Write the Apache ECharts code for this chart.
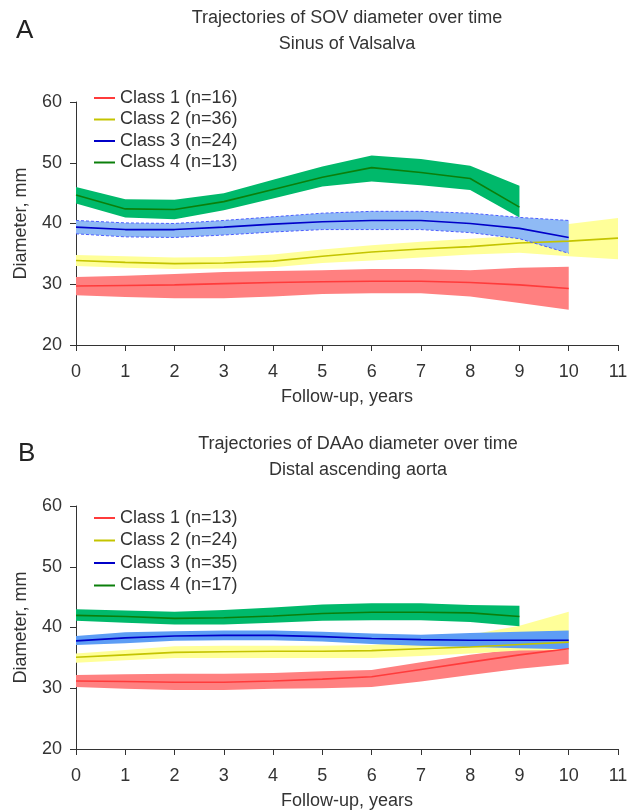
<!DOCTYPE html>
<html>
<head>
<meta charset="utf-8">
<script src="https://cdn.jsdelivr.net/npm/echarts@6/dist/echarts.min.js"></script>
<style>html,body{margin:0;padding:0;background:#fff}#c{width:635px;height:812px}</style>
</head>
<body>
<div id="c"></div>
<script>
// ---------- Panel A: SOV ----------
const xTicks = [0,1,2,3,4,5,6,7,8,9,10,11];
const yearsA1 = [0,1,2,3,4,5,6,7,8,9,10];
const A1mean  = [29.7,29.8,29.9,30.1,30.3,30.4,30.5,30.5,30.3,29.9,29.3];
const A1upper = [31.2,31.4,31.7,32.0,32.2,32.3,32.5,32.5,32.3,32.7,32.9];
const A1lower = [28.2,27.9,27.7,27.7,28.0,28.4,28.5,28.5,28.0,26.9,25.8];

const yearsA2 = [0,1,2,3,4,5,6,7,8,9,10,11];
const A2mean  = [33.9,33.6,33.4,33.5,33.8,34.6,35.3,35.8,36.2,36.8,37.1,37.6];
const A2upper = [34.8,34.6,34.4,34.5,34.9,35.7,36.4,37.0,37.5,38.0,39.9,40.9];
const A2lower = [33.0,32.7,32.5,32.6,32.8,33.5,33.9,34.4,34.9,35.2,34.6,34.1];

const yearsA3 = [0,1,2,3,4,5,6,7,8,9,10];
const A3mean  = [39.4,39.0,39.0,39.4,39.9,40.3,40.5,40.5,40.0,39.2,37.7];
const A3upper = [40.5,40.1,40.0,40.5,41.1,41.7,42.0,42.0,41.7,41.0,40.5];
const A3lower = [38.3,37.8,37.7,38.1,38.6,39.0,39.0,39.0,38.5,37.5,35.1];

const yearsA4 = [0,1,2,3,4,5,6,7,8,9];
const A4mean  = [44.7,42.4,42.3,43.6,45.6,47.6,49.2,48.4,47.4,42.7];
const A4upper = [46.0,44.0,43.9,45.0,47.2,49.4,51.2,50.6,49.5,46.2];
const A4lower = [43.3,41.0,40.7,42.2,44.1,46.1,46.9,46.3,45.5,41.0];

const namesA = ['Class 1 (n=16)','Class 2 (n=36)','Class 3 (n=24)','Class 4 (n=13)'];

// ---------- Panel B: DAAo ----------
const yearsB1 = [0,1,2,3,4,5,6,7,8,9,10];
const B1mean  = [31.2,31.1,31.0,31.0,31.2,31.5,31.9,33.1,34.3,35.5,36.5];
const B1upper = [32.2,32.3,32.4,32.4,32.5,32.8,33.0,34.3,35.5,36.5,37.6];
const B1lower = [30.2,29.9,29.7,29.7,29.9,30.0,30.2,31.1,32.2,33.2,34.0];

const yearsB2 = [0,1,2,3,4,5,6,7,8,9,10];
const B2mean  = [35.1,35.5,35.9,36.0,36.1,36.1,36.2,36.5,36.8,37.2,37.6];
const B2upper = [35.7,36.3,36.9,37.0,37.0,37.0,37.1,37.8,38.8,40.3,42.6];
const B2lower = [34.2,34.6,35.0,35.0,35.0,35.0,35.0,35.3,35.7,36.2,36.3];

const yearsB3 = [0,1,2,3,4,5,6,7,8,9,10];
const B3mean  = [37.8,38.3,38.6,38.7,38.7,38.5,38.2,38.0,37.9,37.9,37.9];
const B3upper = [38.6,39.2,39.4,39.5,39.5,39.3,39.0,38.8,39.1,39.3,39.5];
const B3lower = [37.1,37.4,37.8,37.9,37.9,37.7,37.3,37.0,36.8,36.6,36.4];

const yearsB4 = [0,1,2,3,4,5,6,7,8,9];
const B4mean  = [42.0,41.8,41.5,41.6,41.9,42.3,42.5,42.5,42.4,41.8];
const B4upper = [43.0,42.8,42.6,42.9,43.3,43.8,44.0,44.0,43.7,43.6];
const B4lower = [41.1,40.8,40.5,40.5,40.8,41.1,41.2,41.2,40.9,40.2];

const namesB = ['Class 1 (n=13)','Class 2 (n=24)','Class 3 (n=35)','Class 4 (n=17)'];

// ---------- styles ----------
const lineColors = ['#ff3b3b','#c4c400','#0000c8','#0b7f0b'];
const bandColorsA = ['#ff8080','#ffff99','#8fbaf5','#00b96b'];
const bandColorsB = ['#ff8080','#ffff99','#5d9df5','#00b96b'];
const FONT = '"Liberation Sans", Arial, Helvetica, sans-serif';
const TXT = '#333';

function pairs(xs, ys){ return xs.map((x,i)=>[x, ys[i]]); }

function bandSeries(grid, xs, upper, lower, color){
  const data = xs.map((x,i)=>[x, lower[i], upper[i]]);
  return {
    type:'custom', xAxisIndex:grid, yAxisIndex:grid, silent:true, z:2,
    encode:{x:0, y:[1,2]},
    data: data,
    renderItem: function(params, api){
      if (params.dataIndex !== 0) return null;
      const pts = [];
      for (let i=0;i<data.length;i++) pts.push(api.coord([data[i][0], data[i][2]]));
      for (let i=data.length-1;i>=0;i--) pts.push(api.coord([data[i][0], data[i][1]]));
      return {type:'polygon', shape:{points:pts}, style:{fill:color, stroke:null}};
    }
  };
}

function classSeries(grid, idx, name, xs, mean, upper, lower, bandColor, edge){
  const out = [bandSeries(grid, xs, upper, lower, bandColor)];
  if (edge) {
    out.push({type:'line', xAxisIndex:grid, yAxisIndex:grid, silent:true, data: pairs(xs, upper), symbol:'none',
      lineStyle:{color:edge, width:1, type:[3,2]}, z:2});
    out.push({type:'line', xAxisIndex:grid, yAxisIndex:grid, silent:true, data: pairs(xs, lower), symbol:'none',
      lineStyle:{color:edge, width:1, type:[3,2]}, z:2});
  }
  out.push({
    type:'line', name:name, xAxisIndex:grid, yAxisIndex:grid, data: pairs(xs, mean), symbol:'none',
    lineStyle:{color:lineColors[idx], width:1.6}, itemStyle:{color:lineColors[idx]}, z:2
  });
  return out;
}

const series = [].concat(
  classSeries(0,0,namesA[0],yearsA1,A1mean,A1upper,A1lower,bandColorsA[0],null),
  classSeries(0,1,namesA[1],yearsA2,A2mean,A2upper,A2lower,bandColorsA[1],null),
  classSeries(0,2,namesA[2],yearsA3,A3mean,A3upper,A3lower,bandColorsA[2],'#4a5cff'),
  classSeries(0,3,namesA[3],yearsA4,A4mean,A4upper,A4lower,bandColorsA[3],null),
  classSeries(1,0,namesB[0],yearsB1,B1mean,B1upper,B1lower,bandColorsB[0],null),
  classSeries(1,1,namesB[1],yearsB2,B2mean,B2upper,B2lower,bandColorsB[1],null),
  classSeries(1,2,namesB[2],yearsB3,B3mean,B3upper,B3lower,bandColorsB[2],null),
  classSeries(1,3,namesB[3],yearsB4,B4mean,B4upper,B4lower,bandColorsB[3],null)
);

function xAxis(grid){
  return {
    type:'value', gridIndex:grid, min:0, max:11, interval:1,
    name:'Follow-up, years', nameLocation:'middle', nameGap:43,
    nameTextStyle:{fontFamily:FONT, fontSize:18, color:TXT},
    axisLine:{show:true, lineStyle:{color:'#333', width:1}},
    axisTick:{show:true, length:6, lineStyle:{color:'#333'}},
    axisLabel:{fontFamily:FONT, fontSize:18, color:TXT, margin:18},
    splitLine:{show:false}
  };
}
function yAxis(grid){
  return {
    type:'value', gridIndex:grid, min:20, max:60, interval:10,
    name:'Diameter, mm', nameLocation:'middle', nameGap:46, nameRotate:90,
    nameTextStyle:{fontFamily:FONT, fontSize:18, color:TXT},
    axisLine:{show:true, lineStyle:{color:'#333', width:1}},
    axisTick:{show:true, length:6, lineStyle:{color:'#333'}},
    axisLabel:{fontFamily:FONT, fontSize:18, color:TXT, margin:14},
    splitLine:{show:false}
  };
}

const chart = echarts.init(document.getElementById('c'), null, {renderer:'canvas'});
chart.setOption({
  animation:false,
  backgroundColor:'#fff',
  grid:[
    {left:76, right:17, top:102, height:243},
    {left:76, right:17, top:506, height:243}
  ],
  xAxis:[xAxis(0), xAxis(1)],
  yAxis:[yAxis(0), yAxis(1)],
  legend:[
    {data:namesA, orient:'vertical', left:89, top:84, icon:'rect', itemWidth:21, itemHeight:2, itemGap:3.5,
     textStyle:{fontFamily:FONT, fontSize:18, color:TXT, lineHeight:18}, selectedMode:false},
    {data:namesB, orient:'vertical', left:89, top:504, icon:'rect', itemWidth:21, itemHeight:2, itemGap:4.5,
     textStyle:{fontFamily:FONT, fontSize:18, color:TXT, lineHeight:18}, selectedMode:false}
  ],
  graphic:[
    {type:'text', left:16, top:18, style:{text:'A', font:'26px ' + FONT, fill:'#222'}},
    {type:'text', x:347, y:18, style:{text:'Trajectories of SOV diameter over time', font:'18px ' + FONT, fill:TXT, textAlign:'center', textVerticalAlign:'middle'}},
    {type:'text', x:347, y:44, style:{text:'Sinus of Valsalva', font:'18px ' + FONT, fill:TXT, textAlign:'center', textVerticalAlign:'middle'}},
    {type:'text', left:18, top:441, style:{text:'B', font:'26px ' + FONT, fill:'#222'}},
    {type:'text', x:358, y:444, style:{text:'Trajectories of DAAo diameter over time', font:'18px ' + FONT, fill:TXT, textAlign:'center', textVerticalAlign:'middle'}},
    {type:'text', x:358, y:470, style:{text:'Distal ascending aorta', font:'18px ' + FONT, fill:TXT, textAlign:'center', textVerticalAlign:'middle'}}
  ],
  series: series
});
</script>
</body>
</html>
